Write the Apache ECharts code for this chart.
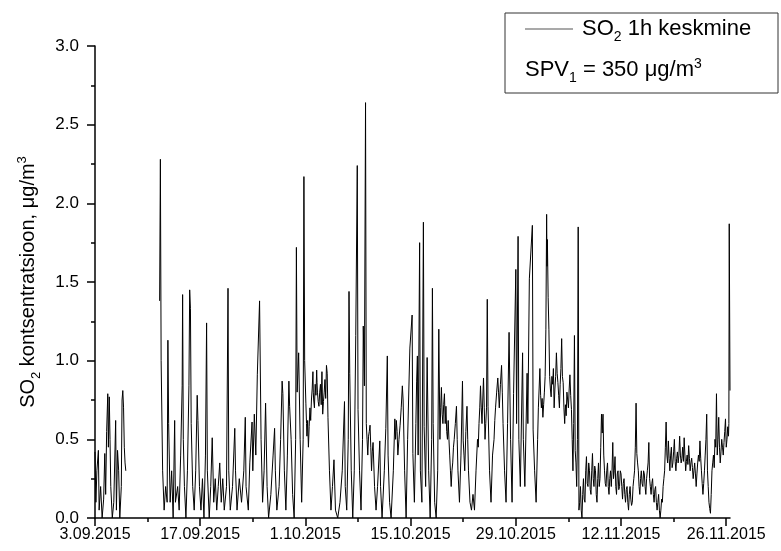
<!DOCTYPE html>
<html>
<head>
<meta charset="utf-8">
<script src="https://cdn.jsdelivr.net/npm/echarts@6/dist/echarts.min.js"></script>
<style>
  html, body { margin: 0; padding: 0; background: #fff; }
  #chart { width: 781px; height: 551px; }
</style>
</head>
<body>
<div id="chart"></div>
<script>
// x = days since 3.09.2015 00:00, y = SO2 1h mean
var tickDays = [0, 14, 28, 42, 56, 70, 84];
var tickLabels = ['3.09.2015', '17.09.2015', '1.10.2015', '15.10.2015', '29.10.2015', '12.11.2015', '26.11.2015'];
var minorDays = [7, 21, 35, 49, 63, 77];

// first measuring period, then a gap with no data
var periodA = [
  [0.0,0.42],[0.12,0.1],[0.25,0.3],[0.45,0.43],[0.55,0.05],[0.75,0.2],[0.95,0.0],[1.15,0.12],
  [1.3,0.41],[1.42,0.15],[1.55,0.55],[1.7,0.79],[1.78,0.45],[1.9,0.77],[2.0,0.5],[2.1,0.2],
  [2.3,0.0],[2.5,0.1],[2.75,0.62],[2.85,0.05],[3.0,0.43],[3.15,0.3],[3.3,0.0],[3.5,0.2],
  [3.6,0.75],[3.7,0.81],[3.8,0.7],[3.9,0.45],[4.0,0.35],[4.1,0.3]
];

var periodB = [
  [8.6,1.38],[8.7,2.28],[8.8,1.0],[9.0,0.3],[9.2,0.05],[9.4,0.2],[9.6,0.1],[9.7,1.13],[9.8,0.6],
  [10.0,0.1],[10.2,0.3],[10.4,0.0],[10.6,0.62],[10.7,0.1],[11.0,0.2],[11.2,0.05],[11.4,0.4],
  [11.6,0.84],[11.66,1.42],[11.75,0.5],[11.9,0.2],[12.1,0.0],[12.3,0.3],[12.5,0.84],[12.6,1.45],
  [12.7,1.33],[12.8,0.6],[13.0,0.2],[13.2,0.05],[13.4,0.3],[13.6,0.78],[13.7,0.62],[13.9,0.2],
  [14.1,0.05],[14.3,0.25],[14.5,0.0],[14.7,0.4],[14.85,1.24],[14.95,0.3],[15.2,0.0],[15.4,0.2],
  [15.6,0.51],[15.8,0.1],[16.0,0.25],[16.2,0.05],[16.4,0.2],[16.6,0.35],[16.8,0.1],[17.0,0.25],
  [17.2,0.05],[17.5,0.2],[17.7,1.46],[17.8,0.3],[18.0,0.05],[18.3,0.2],[18.6,0.57],[18.7,0.3],
  [18.9,0.05],[19.2,0.25],[19.5,0.1],[19.8,0.3],[20.0,0.64],[20.1,0.2],[20.4,0.05],[20.6,0.35],
  [20.9,0.61],[21.0,0.3],[21.2,0.66],[21.4,0.4],[21.6,0.91],[21.9,1.38],[22.1,0.5],[22.3,0.1],
  [22.5,0.3],[22.7,0.73],[22.9,0.2],[23.1,0.0],[23.4,0.15],[23.7,0.4],[23.9,0.57],[24.0,0.3],
  [24.2,0.05],[24.5,0.2],[24.7,0.5],[24.9,0.87],[25.0,0.79],[25.2,0.3],[25.4,0.05],[25.6,0.4],
  [25.8,0.87],[25.9,0.71],[26.1,0.5],[26.3,0.15],[26.5,0.0],[26.7,0.5],[26.8,1.72],[26.9,0.8],
  [27.1,1.05],[27.3,0.5],[27.5,0.1],[27.7,0.5],[27.8,2.17],[27.9,1.0],[28.06,0.73],[28.15,0.6],
  [28.2,0.52],[28.3,0.62],[28.4,0.45],[28.5,0.58],[28.6,0.7],[28.7,0.62],[28.8,0.75],[28.9,0.82],
  [29.0,0.93],[29.05,0.8],[29.1,0.75],[29.2,0.7],[29.3,0.85],[29.4,0.78],[29.5,0.94],[29.55,0.86],
  [29.6,0.8],[29.7,0.74],[29.8,0.71],[29.9,0.8],[30.0,0.85],[30.1,0.72],[30.2,0.93],[30.3,0.66],
  [30.4,0.74],[30.5,0.8],[30.6,0.88],[30.7,0.76],[30.8,0.97],[30.9,0.92],[31.0,0.64],
  [31.2,0.3],[31.4,0.05],[31.6,0.2],[31.8,0.37],[32.0,0.05],[32.3,0.0],[32.6,0.1],[32.9,0.3],
  [33.2,0.74],[33.3,0.2],[33.5,0.05],[33.7,0.5],[33.8,1.44],[33.9,0.92],[34.1,0.3],[34.3,0.0],
  [34.5,0.3],[34.7,1.16],[34.9,2.24],[35.0,0.69],[35.2,0.3],[35.4,0.05],[35.6,0.5],[35.7,1.22],
  [35.85,0.84],[36.0,2.64],[36.1,0.6],[36.2,0.5],[36.3,0.4],[36.4,0.52],[36.5,0.55],[36.6,0.59],
  [36.7,0.45],[36.8,0.3],[36.9,0.42],[37.0,0.48],[37.2,0.2],[37.4,0.05],[37.6,0.2],[37.9,0.49],
  [38.0,0.2],[38.2,0.0],[38.5,0.3],[38.7,0.57],[38.9,1.03],[39.0,0.4],[39.2,0.1],[39.4,0.0],
  [39.7,0.3],[39.9,0.63],[40.0,0.5],[40.1,0.62],[40.2,0.55],[40.3,0.4],[40.45,0.5],[40.6,0.59],
  [40.75,0.7],[40.9,0.84],[41.0,0.75],[41.2,0.3],[41.4,0.0],[41.6,0.5],[41.9,1.08],[42.2,1.29],
  [42.3,0.41],[42.5,0.1],[42.7,0.6],[42.8,0.87],[42.9,1.03],[43.0,0.4],[43.2,1.75],[43.3,0.3],
  [43.5,0.1],[43.7,1.88],[43.8,0.58],[44.0,0.2],[44.2,1.02],[44.4,0.3],[44.6,0.0],[44.8,0.5],
  [44.9,1.46],[45.0,0.6],[45.2,0.1],[45.4,0.0],[45.6,0.3],[45.75,1.2],[45.9,0.5],[46.0,0.7],
  [46.1,0.83],[46.2,0.66],[46.3,0.6],[46.4,0.72],[46.5,0.79],[46.6,0.6],[46.7,0.71],[46.8,0.55],
  [46.9,0.5],[47.0,0.62],[47.1,0.5],[47.2,0.4],[47.3,0.3],[47.4,0.2],[47.5,0.3],[47.6,0.35],
  [47.7,0.45],[47.8,0.5],[47.95,0.6],[48.1,0.71],[48.2,0.5],[48.3,0.3],[48.5,0.1],[48.7,0.4],
  [48.9,0.87],[49.0,0.49],[49.1,0.4],[49.2,0.3],[49.35,0.55],[49.5,0.71],[49.6,0.5],[49.7,0.3],
  [49.9,0.1],[50.1,0.05],[50.3,0.15],[50.5,0.05],[50.7,0.3],[50.9,0.5],[51.0,0.45],[51.1,0.6],
  [51.2,0.7],[51.3,0.84],[51.4,0.7],[51.5,0.6],[51.6,0.75],[51.7,0.89],[51.8,0.7],[51.9,0.5],
  [52.0,0.6],[52.1,0.7],[52.2,1.39],[52.3,0.71],[52.5,0.3],[52.7,0.1],[52.9,0.4],[53.1,0.5],
  [53.2,0.62],[53.3,0.7],[53.45,0.8],[53.6,0.89],[53.7,0.8],[53.8,0.7],[53.95,0.85],[54.1,0.97],
  [54.2,0.8],[54.3,0.6],[54.5,0.3],[54.7,0.1],[54.9,0.6],[55.1,1.18],[55.3,0.5],[55.5,0.1],
  [55.7,0.79],[56.0,1.58],[56.1,0.6],[56.3,1.79],[56.4,0.5],[56.6,0.2],[56.9,1.05],[57.0,0.5],
  [57.2,0.2],[57.5,0.92],[57.6,0.6],[57.8,1.52],[58.2,1.86],[58.3,0.56],[58.5,0.3],[58.7,0.1],
  [58.9,0.5],[59.0,0.7],[59.1,0.82],[59.2,0.95],[59.3,0.78],[59.4,0.7],[59.5,0.76],[59.6,0.64],
  [59.7,0.72],[59.8,0.8],[59.9,0.9],[60.0,1.2],[60.1,1.93],[60.15,1.6],[60.2,1.77],[60.3,1.4],
  [60.4,1.2],[60.5,0.9],[60.6,0.82],[60.7,0.77],[60.8,0.9],[60.9,0.85],[61.0,0.95],[61.1,0.7],
  [61.2,0.82],[61.3,0.9],[61.4,1.05],[61.5,0.92],[61.6,0.86],[61.7,0.78],[61.8,0.7],[61.9,0.85],
  [62.0,0.95],[62.1,1.14],[62.2,0.9],[62.3,0.86],[62.4,0.7],[62.5,0.6],[62.6,0.72],[62.7,0.65],
  [62.8,0.8],[62.9,0.75],[63.0,0.7],[63.1,0.82],[63.2,0.91],[63.3,0.78],[63.4,0.69],[63.5,0.5],
  [63.6,0.3],[63.7,0.6],[63.8,1.16],[63.9,0.43],[64.0,0.35],[64.1,0.2],[64.2,0.5],[64.3,1.85],
  [64.4,0.05]
];

var periodC = [
  [64.5,0.1],[64.6,0.2],[64.7,0.05],[64.8,0.0],[64.9,0.15],[65.0,0.25],[65.1,0.12],[65.2,0.1],
  [65.3,0.3],[65.4,0.39],[65.5,0.22],[65.6,0.2],[65.7,0.35],[65.8,0.3],[65.9,0.18],[66.0,0.15],
  [66.1,0.3],[66.2,0.41],[66.3,0.25],[66.4,0.2],[66.5,0.33],[66.6,0.3],[66.7,0.15],[66.8,0.1],
  [66.9,0.25],[67.0,0.35],[67.1,0.2],[67.2,0.25],[67.3,0.45],[67.4,0.66],[67.5,0.54],[67.6,0.66],
  [67.7,0.4],[67.8,0.3],[67.9,0.22],[68.0,0.2],[68.1,0.3],[68.2,0.35],[68.3,0.2],[68.4,0.15],
  [68.5,0.25],[68.6,0.3],[68.7,0.2],[68.8,0.3],[68.9,0.48],[69.0,0.25],[69.1,0.3],[69.2,0.39],
  [69.3,0.2],[69.4,0.15],[69.5,0.28],[69.6,0.3],[69.7,0.18],[69.8,0.2],[69.9,0.3],[70.0,0.28],
  [70.1,0.2],[70.2,0.12],[70.3,0.22],[70.4,0.25],[70.5,0.15],[70.6,0.1],[70.7,0.18],[70.8,0.2],
  [70.9,0.1],[71.0,0.05],[71.1,0.15],[71.2,0.2],[71.3,0.12],[71.4,0.08],[71.5,0.1],[71.6,0.2],
  [71.7,0.25],[71.8,0.3],[71.9,0.45],[72.0,0.73],[72.1,0.41],[72.2,0.35],[72.3,0.3],[72.4,0.2],
  [72.5,0.15],[72.6,0.25],[72.7,0.3],[72.8,0.22],[72.9,0.2],[73.0,0.3],[73.1,0.28],[73.2,0.2],
  [73.3,0.15],[73.4,0.25],[73.5,0.3],[73.6,0.35],[73.7,0.48],[73.8,0.25],[73.9,0.2],[74.0,0.15],
  [74.1,0.22],[74.2,0.25],[74.3,0.15],[74.4,0.1],[74.5,0.18],[74.6,0.2],[74.7,0.1],[74.8,0.05],
  [74.9,0.1],[75.0,0.15],[75.1,0.05],[75.2,0.0],[75.3,0.05],[75.4,0.12],[75.5,0.1],[75.6,0.2],
  [75.7,0.25],[75.8,0.3],[75.9,0.45],[76.0,0.61],[76.1,0.4],[76.2,0.35],[76.3,0.49],[76.4,0.38],
  [76.5,0.3],[76.6,0.4],[76.7,0.45],[76.8,0.32],[76.9,0.35],[77.0,0.42],[77.1,0.5],[77.2,0.36],
  [77.3,0.3],[77.4,0.38],[77.5,0.42],[77.6,0.35],[77.7,0.4],[77.8,0.52],[77.9,0.4],[78.0,0.35],
  [78.1,0.38],[78.2,0.45],[78.3,0.36],[78.4,0.51],[78.5,0.4],[78.6,0.3],[78.7,0.36],[78.8,0.4],
  [78.9,0.34],[79.0,0.46],[79.1,0.38],[79.2,0.3],[79.3,0.35],[79.4,0.38],[79.5,0.32],[79.6,0.25],
  [79.7,0.3],[79.8,0.35],[79.9,0.28],[80.0,0.2],[80.1,0.28],[80.2,0.35],[80.3,0.4],[80.4,0.36],
  [80.5,0.49],[80.6,0.38],[80.7,0.3],[80.8,0.22],[80.9,0.15],[81.0,0.22],[81.1,0.3],[81.2,0.4],
  [81.3,0.5],[81.4,0.66],[81.5,0.3],[81.6,0.2],[81.7,0.1],[81.8,0.06],[81.9,0.03],[82.0,0.15],
  [82.1,0.3],[82.2,0.35],[82.3,0.4],[82.4,0.32],[82.5,0.5],[82.6,0.45],[82.7,0.79],[82.8,0.4],
  [82.9,0.5],[83.0,0.64],[83.1,0.45],[83.2,0.35],[83.3,0.42],[83.4,0.5],[83.5,0.45],[83.6,0.4],
  [83.7,0.48],[83.8,0.55],[83.9,0.63],[84.0,0.45],[84.1,0.5],[84.2,0.58],[84.3,0.52],[84.35,0.6],
  [84.4,1.87],[84.5,0.81]
];

var font = "Arial, 'Liberation Sans', sans-serif";
var seriesData = periodA.concat([[6, null]], periodB, periodC);

// sub/superscript pieces, shifted with padding
var subStyle = function (size) {
  return { fontFamily: font, fontSize: size, color: '#000', padding: [16, 0, 0, 0] };
};
var supStyle = function (size) {
  return { fontFamily: font, fontSize: size, color: '#000', padding: [0, 0, 12, 0] };
};

var chart = echarts.init(document.getElementById('chart'));
chart.setOption({
  backgroundColor: '#fff',
  animation: false,
  grid: { left: 95, right: 51, top: 46, bottom: 33 },
  legend: {
    left: 525,
    top: 18,
    padding: 0,
    icon: 'rect',
    itemWidth: 48,
    itemHeight: 1,
    selectedMode: false,
    itemStyle: { color: '#555' },
    formatter: '{a|SO}{sub|2}{a| 1h keskmine}',
    textStyle: {
      padding: [0, 0, 0, 4],
      rich: {
        a: { fontFamily: font, fontSize: 22, color: '#000' },
        sub: subStyle(14)
      }
    },
    data: ['SO2 1h keskmine']
  },
  graphic: [
    {
      type: 'rect',
      shape: { x: 505, y: 13, width: 273, height: 80 },
      style: { fill: 'none', stroke: '#333', lineWidth: 1 }
    },
    {
      type: 'text',
      x: 525,
      y: 70,
      style: {
        text: '{a|SPV}{sub|1}{a| = 350 μg/m}{sup|3}',
        verticalAlign: 'middle',
        rich: {
          a: { fontFamily: font, fontSize: 22, fill: '#000' },
          sub: { fontFamily: font, fontSize: 14, fill: '#000', padding: [16, 0, 0, 0] },
          sup: { fontFamily: font, fontSize: 14, fill: '#000', padding: [0, 0, 12, 0] }
        }
      }
    }
  ],
  xAxis: [
    {
      type: 'value',
      min: 0,
      max: 84.5,
      interval: 14,
      axisLine: { lineStyle: { color: '#000', width: 1.5 } },
      axisTick: { customValues: tickDays, length: 8, lineStyle: { color: '#000', width: 1.5 } },
      axisLabel: {
        customValues: tickDays,
        margin: 9,
        color: '#000',
        fontFamily: font,
        fontSize: 16,
        formatter: function (v) {
          var i = tickDays.indexOf(v);
          return i >= 0 ? tickLabels[i] : '';
        }
      },
      splitLine: { show: false }
    },
    {
      type: 'value',
      min: 0,
      max: 84.5,
      position: 'bottom',
      axisLine: { show: false },
      axisTick: { customValues: minorDays, length: 4, lineStyle: { color: '#000', width: 1.5 } },
      axisLabel: { show: false },
      splitLine: { show: false }
    }
  ],
  yAxis: {
    type: 'value',
    min: 0,
    max: 3,
    interval: 0.5,
    name: '{a|SO}{sub|2}{a| kontsentratsioon, μg/m}{sup|3}',
    nameLocation: 'middle',
    nameGap: 52,
    nameTextStyle: {
      rich: {
        a: { fontFamily: font, fontSize: 20, color: '#000' },
        sub: subStyle(13),
        sup: supStyle(13)
      }
    },
    axisLine: { show: true, lineStyle: { color: '#000', width: 1.5 } },
    axisTick: { show: true, length: 8, lineStyle: { color: '#000', width: 1.5 } },
    minorTick: { show: true, splitNumber: 2, length: 4, lineStyle: { color: '#000', width: 1.5 } },
    axisLabel: {
      margin: 16,
      color: '#000',
      fontFamily: font,
      fontSize: 17,
      formatter: function (v) { return v.toFixed(1); }
    },
    splitLine: { show: false }
  },
  series: [
    {
      name: 'SO2 1h keskmine',
      type: 'line',
      data: seriesData,
      symbol: 'none',
      connectNulls: false,
      lineStyle: { color: '#000', width: 1 },
      itemStyle: { color: '#000' }
    }
  ]
});
</script>
</body>
</html>
